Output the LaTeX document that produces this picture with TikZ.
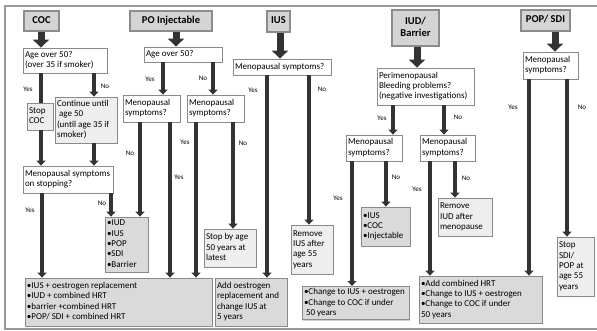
\documentclass[tikz,border=0pt]{standalone}
\usepackage{fontspec}
\setmainfont{Carlito}
\usetikzlibrary{arrows.meta,shadows}
\definecolor{boxline}{HTML}{8A8A8A}
\definecolor{grayfill}{HTML}{DADADA}
\definecolor{lightfill}{HTML}{EEEEEE}
\definecolor{hdrfill}{HTML}{D4D4D4}
\definecolor{arrowcol}{HTML}{333333}
\newcommand\bx[7]{%
  \pgfmathsetmacro\bxw{#4-#2}%
  \pgfmathsetmacro\bxh{#5-#3}%
  \pgfmathsetmacro\bxt{#4-#2-4}%
  \node[#6, minimum width=\bxw pt, minimum height=\bxh pt] (#1) at ({(#2+#4)/2},{(#3+#5)/2})
    {\makebox[\bxt pt][l]{\begin{tabular}{@{}l@{}}#7\end{tabular}}};}
\newcommand\hb[7]{%
  \pgfmathsetmacro\bxw{#4-#2}%
  \pgfmathsetmacro\bxh{#5-#3}%
  \node[#6, minimum width=\bxw pt, minimum height=\bxh pt] (#1) at ({(#2+#4)/2},{(#3+#5)/2})
    {\begin{tabular}{@{}c@{}}#7\end{tabular}};}
\tikzset{
  basebox/.style={draw=boxline, line width=0.8pt, inner xsep=2pt, inner ysep=1.2pt,
    font=\fontsize{9}{10.3}\selectfont,
    drop shadow={shadow xshift=1.3pt, shadow yshift=-1.3pt, fill=black!30, opacity=0.6}},
  whitebox/.style={basebox, fill=white},
  lightbox/.style={basebox, fill=lightfill},
  graybox/.style={basebox, fill=grayfill},
  hdrbox/.style={draw=black!45, line width=1.2pt, fill=hdrfill, inner xsep=2pt, inner ysep=0.5pt,
    font=\fontsize{10.5}{12.5}\selectfont\bfseries,
    drop shadow={shadow xshift=1.3pt, shadow yshift=-1.3pt, fill=black!30, opacity=0.6}},
  bigarrow/.style={draw=arrowcol, line width=7pt, -{Triangle[width=16pt,length=8pt]}},
  conn/.style={draw=arrowcol, line width=3.6pt, -{Triangle[width=9pt,length=5pt]}},
  plainconn/.style={draw=arrowcol, line width=3.6pt},
  lbl/.style={font=\fontsize{7}{8}\selectfont, inner sep=0pt},
  frame/.style={draw=black!40, line width=1.2pt}
}
\begin{document}
\begin{tikzpicture}[x=1pt,y=-1pt]
\useasboundingbox (0,0) rectangle (597,331);
\fill[white] (0,0) rectangle (597,331);
\draw[frame] (597,6) -- (5,6) -- (5,329) -- (597,329);

% headers
\hb{hCOC}{24}{11}{59}{31}{hdrbox}{COC}
\hb{hPO}{130}{11}{212}{31}{hdrbox}{PO Injectable}
\hb{hIUS}{267}{11}{290}{32}{hdrbox}{IUS}
\hb{hIUD}{392}{10}{439}{46}{hdrbox}{IUD/\\Barrier}
\hb{hPOP}{521}{10}{570}{31}{hdrbox}{POP/ SDI}

% COC column
\bx{cAge}{23}{48}{107}{73}{whitebox}{Age over 50?\\(over 35 if smoker)}
\bx{cStop}{27}{103}{53}{130}{lightbox}{Stop\\COC}
\bx{cCont}{55}{97}{117}{143}{lightbox}{Continue until\\\ age 50\\(until age 35 if\\smoker)}
\bx{cMeno}{23}{166}{113}{193}{whitebox}{Menopausal symptoms\\on stopping?}
\bx{listA}{105}{217}{148}{272}{graybox}{•IUD\\•IUS\\•POP\\•SDI\\•Barrier}
\bx{botA}{25}{278}{212}{326}{graybox}{•IUS + oestrogen replacement\\•IUD + combined HRT\\•barrier +combined HRT\\•POP/ SDI + combined HRT}

% PO column
\bx{pAge}{144}{47}{222}{62}{whitebox}{Age over 50?}
\bx{pMa}{123}{95}{180}{122}{whitebox}{Menopausal\\symptoms?}
\bx{pMb}{187}{95}{244}{122}{whitebox}{Menopausal\\symptoms?}
\bx{pStop}{204}{229}{256}{267}{lightbox}{Stop by age\\50 years at\\latest}
\bx{botB}{215}{278}{287}{326}{graybox}{Add oestrogen\\replacement and\\change IUS at\\5 years}

% IUS column
\bx{iMeno}{233}{59}{331}{75}{whitebox}{Menopausal symptoms?}
\bx{iRem}{291}{225}{333}{274}{lightbox}{Remove\\IUS after\\age 55\\years}

% IUD column
\bx{dPeri}{377}{68}{474}{105}{whitebox}{Perimenopausal\\Bleeding problems?\\(negative investigations)}
\bx{dMa}{346}{135}{402}{161}{whitebox}{Menopausal\\symptoms?}
\bx{dMb}{420}{135}{475}{161}{whitebox}{Menopausal\\symptoms?}
\bx{listB}{361}{207}{410}{246}{graybox}{•IUS\\•COC\\•Injectable}
\bx{dRem}{438}{198}{492}{236}{lightbox}{Remove\\IUD after\\menopause}
\bx{botC}{302}{287}{409}{319}{graybox}{•Change to IUS + oestrogen\\•Change to COC if under\\\ 50 years}
\bx{botD}{419}{276}{542}{323}{graybox}{•Add combined HRT\\•Change to IUS + oestrogen\\•Change to COC if under\\50 years}

% POP column
\bx{sMeno}{523}{52}{578}{79}{whitebox}{Menopausal\\symptoms?}
\bx{sStop}{557}{237}{594}{296}{lightbox}{Stop\\SDI/\\POP at\\age 55\\years}

% big arrows
\draw[bigarrow] (hCOC.south -| 41,0) -- (cAge.north -| 41,0);
\draw[bigarrow] (hPO.south -| 176,0) -- (pAge.north -| 176,0);
\draw[bigarrow] (hIUS.south -| 280,0) -- (iMeno.north -| 280,0);
\draw[bigarrow] (hIUD.south -| 417,0) -- (dPeri.north -| 417,0);
\draw[bigarrow] (hPOP.south -| 555,0) -- (sMeno.north -| 555,0);

% connectors
\draw[plainconn] (cAge.south -| 41,0) -- (cStop.north -| 41,0);
\draw[conn] (cStop.south -| 41,0) -- (cMeno.north -| 41,0);
\draw[conn] (cAge.south -| 94,0) -- (cCont.north -| 94,0);
\draw[conn] (cCont.south -| 94,0) -- (cMeno.north -| 94,0);
\draw[conn] (cMeno.south -| 42,0) -- (botA.north -| 42,0);
\draw[conn] (cMeno.south -| 111,0) -- (listA.north -| 111,0);

\draw[conn] (pAge.south -| 163,0) -- (pMa.north -| 163,0);
\draw[conn] (pAge.south -| 213,0) -- (pMb.north -| 213,0);
\draw[conn] (pMa.south -| 140,0) -- (listA.north -| 140,0);
\draw[conn] (pMa.south -| 170,0) -- (botA.north -| 170,0);
\draw[conn] (pMb.south -| 196,0) -- (botA.north -| 196,0);
\draw[conn] (pMb.south -| 233,0) -- (pStop.north -| 233,0);

\draw[conn] (iMeno.south -| 267,0) -- (botB.north -| 267,0);
\draw[conn] (iMeno.south -| 309,0) -- (iRem.north -| 309,0);

\draw[conn] (dPeri.south -| 393,0) -- (dMa.north -| 393,0);
\draw[conn] (dPeri.south -| 444,0) -- (dMb.north -| 444,0);
\draw[conn] (dMa.south -| 352,0) -- (botC.north -| 352,0);
\draw[conn] (dMa.south -| 386,0) -- (listB.north -| 386,0);
\draw[conn] (dMb.south -| 430,0) -- (botD.north -| 430,0);
\draw[conn] (dMb.south -| 455,0) -- (dRem.north -| 455,0);

\draw[conn] (sMeno.south -| 529,0) -- (botD.north -| 529,0);
\draw[conn] (sMeno.south -| 567,0) -- (sStop.north -| 567,0);

% labels
\node[lbl] (l1) at (28,89) {Yes};
\node[lbl] (l2) at (105,86) {No};
\node[lbl] (l3) at (30,210) {Yes};
\node[lbl] (l4) at (102,203) {No};
\node[lbl] (l5) at (150,79) {Yes};
\node[lbl] (l6) at (203,78) {No};
\node[lbl] (l7) at (130,153) {No};
\node[lbl] (l8) at (179,177) {Yes};
\node[lbl] (l9) at (185,142) {Yes};
\node[lbl] (l10) at (243,143) {No};
\node[lbl] (l11) at (253,90) {Yes};
\node[lbl] (l12) at (322,89) {No};
\node[lbl] (l13) at (382,118) {Yes};
\node[lbl] (l14) at (458,117) {No};
\node[lbl] (l15) at (396,177) {No};
\node[lbl] (l16) at (338,198) {Yes};
\node[lbl] (l17) at (466,178) {No};
\node[lbl] (l18) at (417,189) {Yes};
\node[lbl] (l19) at (513,107) {Yes};
\node[lbl] (l20) at (582,107) {No};
\end{tikzpicture}
\end{document}
